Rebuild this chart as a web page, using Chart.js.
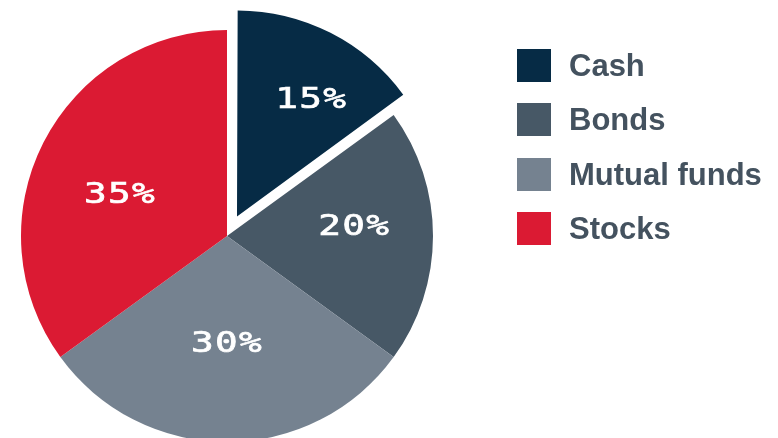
<!DOCTYPE html>
<html>
<head>
<meta charset="utf-8">
<script src="https://cdn.jsdelivr.net/npm/chart.js@4.4.1/dist/chart.umd.min.js"></script>
<style>
  html, body { margin: 0; padding: 0; background: #fff; }
  #wrap { position: relative; width: 778px; height: 438px; overflow: hidden; }
  #pie { position: absolute; left: 0; top: 0; }
  #legend { position: absolute; left: 517px; top: 0; }
  .item { position: absolute; left: 0; height: 33px; display: flex; align-items: center; white-space: nowrap; }
  .swatch { width: 34px; height: 33px; margin-right: 18px; flex: none; }
  .name { font: bold 31px "Liberation Sans", Arial, sans-serif; color: #44525f; line-height: 33px; }
</style>
</head>
<body>
<div id="wrap">
  <canvas id="pie" width="778" height="438"></canvas>
  <div id="legend"></div>
</div>
<script>
// data
const categories = ['Cash', 'Bonds', 'Mutual funds', 'Stocks'];
const shares = [15, 20, 30, 35];
const percentLabels = ['15%', '20%', '30%', '35%'];

// style
const sliceColors = ['#062b45', '#475866', '#758290', '#db1a33'];
const sliceOffsets = [88, 0, 0, 0];
const labelDist = [0.68, 0.62, 0.51, 0.56];
const labelTurn = [5, -5, 0, -5];

// legend as html
const legend = document.getElementById('legend');
categories.forEach((name, i) => {
    const row = document.createElement('div');
    row.className = 'item';
    row.style.top = (49 + i * 54.33) + 'px';
    const sw = document.createElement('div');
    sw.className = 'swatch';
    sw.style.background = sliceColors[i];
    const txt = document.createElement('span');
    txt.className = 'name';
    txt.textContent = name;
    row.appendChild(sw);
    row.appendChild(txt);
    legend.appendChild(row);
});

// chart.js grows an offset arc a little, pull it back to the pie radius
const keepRadius = {
    id: 'keepRadius',
    afterDatasetUpdate(chart, args) {
        const meta = chart.getDatasetMeta(args.index);
        meta.data.forEach(arc => {
            const off = (arc.options.offset || 0) / 4;
            if (!off) return;
            const circ = arc.endAngle - arc.startAngle;
            const fix = 1 - Math.sin(Math.min(Math.PI, circ));
            arc.outerRadius -= off * fix;
        });
    }
};

// percent labels inside the slices
const sliceLabels = {
    id: 'sliceLabels',
    afterDatasetsDraw(chart) {
        const ctx = chart.ctx;
        const meta = chart.getDatasetMeta(0);
        meta.data.forEach((arc, i) => {
            const p = arc.getProps(['x', 'y', 'startAngle', 'endAngle'], true);
            const mid = (p.startAngle + p.endAngle) / 2;
            const shift = (arc.options.offset || 0) / 4;
            const a = mid + labelTurn[i] * Math.PI / 180;
            const r = 206 * labelDist[i];
            const x = p.x + Math.cos(mid) * shift + Math.cos(a) * r;
            const y = p.y + Math.sin(mid) * shift + Math.sin(a) * r;
            ctx.save();
            ctx.translate(x, y + 10.5);
            ctx.scale(1.3, 1);
            ctx.font = '29px "DejaVu Sans Mono", monospace';
            ctx.letterSpacing = '1px';
            ctx.fillStyle = '#ffffff';
            ctx.strokeStyle = '#ffffff';
            ctx.lineWidth = 0.7;
            ctx.textAlign = 'center';
            ctx.textBaseline = 'alphabetic';
            ctx.fillText(percentLabels[i], 0, 0);
            ctx.strokeText(percentLabels[i], 0, 0);
            ctx.restore();
        });
    }
};

const ctx = document.getElementById('pie').getContext('2d');

const chart = new Chart(ctx, {
    type: 'pie',
    data: {
        labels: categories,
        datasets: [
            {
                data: shares,
                backgroundColor: sliceColors,
                borderWidth: 0,
                offset: sliceOffsets,
                clip: false
            }
        ]
    },
    options: {
        responsive: false,
        animation: false,
        events: [],
        radius: 206,
        layout: {
            padding: { top: 34, left: 0, right: 324, bottom: 0 }
        },
        plugins: {
            legend: { display: false },
            tooltip: { enabled: false }
        }
    },
    plugins: [keepRadius, sliceLabels]
});
</script>
</body>
</html>
